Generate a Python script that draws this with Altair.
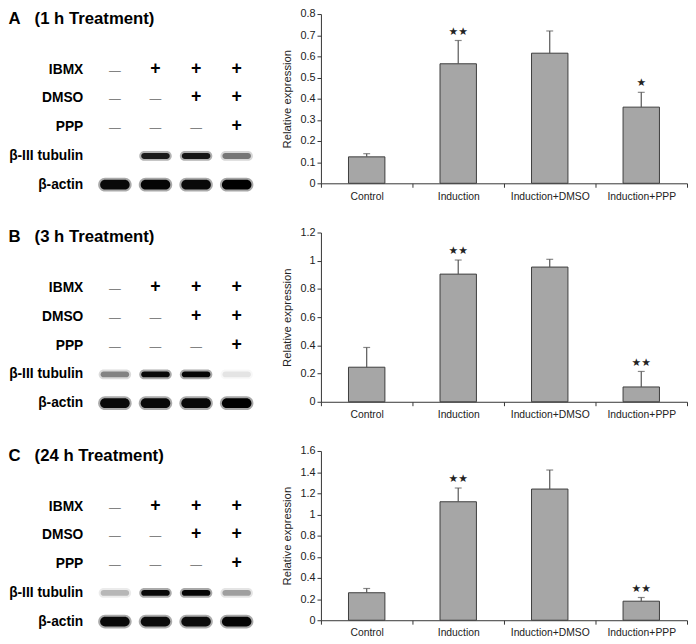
import altair as alt
import pandas as pd

# ---------------- data ----------------
groups = ["Control", "Induction", "Induction+DMSO", "Induction+PPP"]

panel_titles = ["A\u00a0\u00a0\u00a0(1 h Treatment)",
                "B\u00a0\u00a0\u00a0(3 h Treatment)",
                "C\u00a0\u00a0\u00a0(24 h Treatment)"]

means_A = [0.125, 0.565, 0.615, 0.36]
tops_A = [0.14, 0.675, 0.72, 0.43]
stars_A = ["", "★★", "", "★"]

means_B = [0.245, 0.905, 0.955, 0.105]
tops_B = [0.385, 1.005, 1.01, 0.215]
stars_B = ["", "★★", "", "★★"]

means_C = [0.26, 1.12, 1.24, 0.18]
tops_C = [0.30, 1.25, 1.42, 0.215]
stars_C = ["", "★★", "", "★★"]

ymax = [0.8, 1.2, 1.6]
yticks_A = [0, 0.1, 0.2, 0.3, 0.4, 0.5, 0.6, 0.7, 0.8]
yticks_B = [0, 0.2, 0.4, 0.6, 0.8, 1, 1.2]
yticks_C = [0, 0.2, 0.4, 0.6, 0.8, 1, 1.2, 1.4, 1.6]

lanes = ["1", "2", "3", "4"]
blot_rows = ["IBMX", "DMSO", "PPP", "β-III tubulin", "β-actin"]
ibmx = ["—", "+", "+", "+"]
dmso = ["—", "—", "+", "+"]
ppp = ["—", "—", "—", "+"]

tubulin_A = [0.0, 0.85, 0.88, 0.45]
actin_A = [0.95, 0.97, 0.95, 1.0]
tubulin_B = [0.40, 0.95, 0.97, 0.08]
actin_B = [0.95, 0.95, 0.95, 1.0]
tubulin_C = [0.22, 0.95, 0.97, 0.3]
actin_C = [0.95, 0.93, 0.93, 0.97]

FONT = "Liberation Sans"
PLOT_H = 172


def left_panel(title, tub, act):
    signs = pd.DataFrame({
        "lane": lanes * 3,
        "row": ["IBMX"] * 4 + ["DMSO"] * 4 + ["PPP"] * 4,
        "sign": ibmx + dmso + ppp,
    })
    bands = pd.DataFrame({
        "lane": lanes * 2,
        "row": ["β-III tubulin"] * 4 + ["β-actin"] * 4,
        "intensity": tub + act,
    })
    x = alt.X("lane:N", axis=None,
              scale=alt.Scale(domain=lanes, paddingInner=0, paddingOuter=0))
    yscale = alt.Scale(domain=blot_rows, paddingInner=0, paddingOuter=0, range=[42, 188])
    yaxis = alt.Axis(domain=False, ticks=False, grid=False,
                     labelFontWeight="bold", labelFontSize=14,
                     labelColor="black", labelFont=FONT, labelPadding=12)
    y = alt.Y("row:N", title=None, scale=yscale, axis=yaxis)

    base_s = alt.Chart(signs)
    plus = base_s.transform_filter(alt.datum.sign == "+").mark_text(
        fontSize=18, fontWeight="bold", color="black", font=FONT, dy=-1
    ).encode(x=x, y=y, text="sign:N")
    minus = base_s.transform_filter(alt.datum.sign == "—").mark_text(
        fontSize=12, fontWeight="normal", color="#666666", font=FONT
    ).encode(x=x, y=y, text="sign:N")

    base_b = alt.Chart(bands).transform_calculate(
        halo="datum.intensity * 0.35",
        core="datum.intensity"
    )
    tub_f = alt.datum.row == "β-III tubulin"
    act_f = alt.datum.row == "β-actin"
    tub_halo = base_b.transform_filter(tub_f).mark_rect(
        width=33, height=10, cornerRadius=5, color="black"
    ).encode(x=x, y=y, opacity=alt.Opacity("halo:Q", scale=None, legend=None))
    tub_core = base_b.transform_filter(tub_f).mark_rect(
        width=29, height=6, cornerRadius=3, color="black"
    ).encode(x=x, y=y, opacity=alt.Opacity("core:Q", scale=None, legend=None))
    act_halo = base_b.transform_filter(act_f).mark_rect(
        width=34, height=14, cornerRadius=7, color="black"
    ).encode(x=x, y=y, opacity=alt.Opacity("halo:Q", scale=None, legend=None))
    act_core = base_b.transform_filter(act_f).mark_rect(
        width=30, height=10, cornerRadius=5, color="black"
    ).encode(x=x, y=y, opacity=alt.Opacity("core:Q", scale=None, legend=None))

    return alt.layer(plus, minus, tub_halo, tub_core, act_halo, act_core).properties(
        width=165, height=PLOT_H,
        title=alt.Title(title, anchor="start", fontSize=17, fontWeight="bold",
                        font=FONT, color="black", offset=-22, frame="bounds",
                        baseline="middle"),
    )


def right_panel(means, tops, stars, top, ticks):
    df = pd.DataFrame({"group": groups, "mean": means, "top": tops, "star": stars})
    xscale = alt.Scale(domain=groups, paddingInner=0, paddingOuter=0)
    xaxis = alt.Axis(labelAngle=0, tickBand="extent", tickSize=4,
                     labelFontSize=10.5, labelFont=FONT, labelColor="#222222",
                     labelPadding=4, domainColor="#333333", tickColor="#333333")
    x = alt.X("group:N", title=None, sort=groups, scale=xscale, axis=xaxis)
    yscale = alt.Scale(domain=[0, top], nice=False, zero=True)
    yaxis = alt.Axis(title="Relative expression", values=ticks, format="~g",
                     grid=False, tickSize=4, labelFontSize=11, labelFont=FONT,
                     labelColor="#222222", titleFont=FONT, titleFontSize=11.5,
                     titleFontWeight="normal", titleColor="#222222",
                     titlePadding=8, labelPadding=2, labelOverlap=False,
                     domainColor="#333333", tickColor="#333333")
    base = alt.Chart(df)
    bars = base.mark_bar(size=37, fill="#a6a6a6", stroke="#3c3c3c",
                         strokeWidth=1).encode(
        x=x, y=alt.Y("mean:Q", scale=yscale, axis=yaxis, title="Relative expression"))
    err = base.mark_rule(color="#555555", strokeWidth=1.2).encode(
        x=x, y=alt.Y("mean:Q", scale=yscale, axis=yaxis, title="Relative expression"),
        y2="top:Q")
    cap = base.mark_tick(size=7, thickness=1.2, color="#555555").encode(
        x=x, y=alt.Y("top:Q", scale=yscale, axis=yaxis, title="Relative expression"))
    star = base.mark_text(dy=-9, fontSize=11, font="DejaVu Sans",
                          color="#222222").encode(
        x=x, y=alt.Y("top:Q", scale=yscale, axis=yaxis, title="Relative expression"),
        text="star:N")
    return alt.layer(bars, err, cap, star).properties(width=372, height=PLOT_H)


row_a = alt.hconcat(left_panel(panel_titles[0], tubulin_A, actin_A),
                    right_panel(means_A, tops_A, stars_A, ymax[0], yticks_A), spacing=24)
row_b = alt.hconcat(left_panel(panel_titles[1], tubulin_B, actin_B),
                    right_panel(means_B, tops_B, stars_B, ymax[1], yticks_B), spacing=24)
row_c = alt.hconcat(left_panel(panel_titles[2], tubulin_C, actin_C),
                    right_panel(means_C, tops_C, stars_C, ymax[2], yticks_C), spacing=24)

chart = alt.vconcat(row_a, row_b, row_c, spacing=25).properties(
    padding={"left": 0, "top": -5, "right": 0, "bottom": 0},
    background="white",
).configure_view(stroke=None)

chart.save("out.html", embed_options={"renderer": "svg", "actions": False})
